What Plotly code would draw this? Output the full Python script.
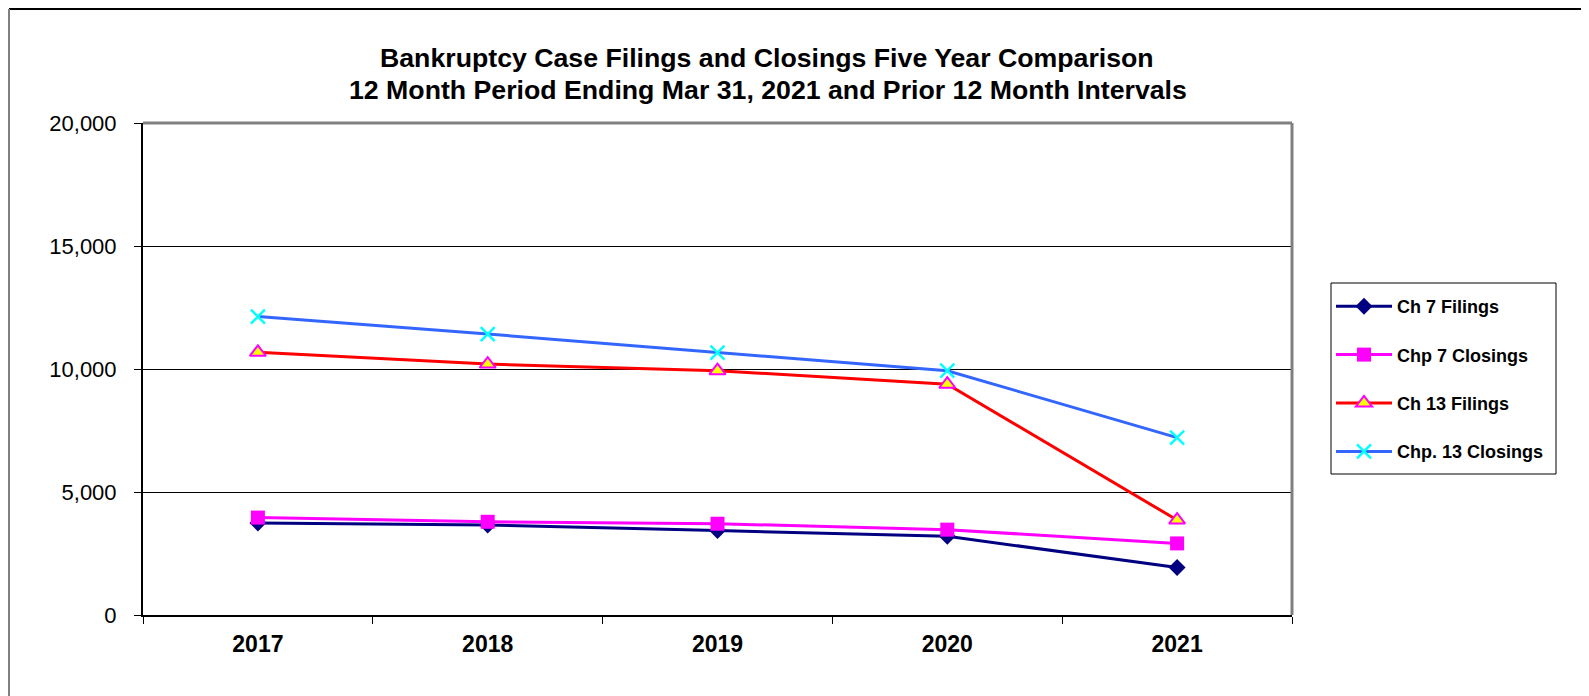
import plotly.graph_objects as go

years = ["2017", "2018", "2019", "2020", "2021"]
ch7_filings = [3740, 3660, 3430, 3200, 1930]
chp7_closings = [3960, 3790, 3710, 3470, 2910]
ch13_filings = [10680, 10200, 9930, 9380, 3860]
chp13_closings = [12130, 11420, 10670, 9930, 7210]
y_ticks = [0, 5000, 10000, 15000, 20000]
y_tick_labels = ["0", "5,000", "10,000", "15,000", "20,000"]
title_lines = ["Bankruptcy Case Filings and Closings Five Year Comparison",
               "12 Month Period Ending Mar 31, 2021 and Prior 12 Month Intervals"]

# page is offset by the 8px body margin
OFF = 8
W, H = 1589 - OFF, 696 - OFF
L, R, T, B = 143 - OFF, 1292 - OFF, 123 - OFF, 615 - OFF

def px(x):
    return (x - OFF - L) / (R - L)

def py(y):
    return (B - (y - OFF)) / (B - T)

fig = go.Figure()
fig.add_trace(go.Scatter(
    x=years, y=ch7_filings, name="Ch 7 Filings", mode="lines+markers", legendgroup="a",
    line=dict(color="#000080", width=3),
    marker=dict(symbol="diamond", size=13, color="#000080")))
fig.add_trace(go.Scatter(
    x=years, y=chp7_closings, name="Chp 7 Closings", mode="lines+markers", legendgroup="b",
    line=dict(color="#FF00FF", width=3),
    marker=dict(symbol="square", size=14, color="#FF00FF")))
fig.add_trace(go.Scatter(
    x=years, y=ch13_filings, name="Ch 13 Filings", mode="lines+markers", legendgroup="c",
    line=dict(color="#FF0000", width=3),
    marker=dict(symbol="triangle-up", size=14, color="#FFFF00", line=dict(color="#FF00FF", width=2))))
fig.add_trace(go.Scatter(
    x=years, y=chp13_closings, name="Chp. 13 Closings", mode="lines+markers", legendgroup="d",
    line=dict(color="#3366FF", width=3),
    marker=dict(symbol="x-thin", size=14, color="#00FFFF", line=dict(color="#00FFFF", width=2.5))))

fig.update_layout(
    width=W, height=H,
    margin=dict(l=L, r=W - R, t=T, b=H - B, pad=0),
    paper_bgcolor="white", plot_bgcolor="white",
    font=dict(family="Arial, Liberation Sans, sans-serif", color="black"),
    showlegend=True,
    legend=dict(
        x=px(1331), y=py(288), xanchor="left", yanchor="top",
        borderwidth=0, bgcolor="rgba(0,0,0,0)",
        font=dict(size=18, weight="bold"), tracegroupgap=22,
        itemwidth=56),
    xaxis=dict(
        type="category", range=[-0.5, 4.5], showgrid=False, zeroline=False,
        showline=True, linecolor="black", linewidth=2,
        ticks="outside", tickson="boundaries", ticklen=7, tickcolor="black", tickwidth=1,
        tickfont=dict(size=23, weight="bold"), ticklabelstandoff=7, fixedrange=True),
    yaxis=dict(
        range=[0, 20000], tickvals=y_ticks, ticktext=y_tick_labels,
        showgrid=True, gridcolor="black", gridwidth=1, zeroline=False,
        showline=True, linecolor="black", linewidth=2,
        ticks="outside", ticklen=7, tickcolor="black", tickwidth=1,
        tickfont=dict(size=22), ticklabelstandoff=13, fixedrange=True),
    annotations=[
        dict(text=title_lines[0], xref="paper", yref="paper", x=px(767), y=py(58),
             xanchor="center", yanchor="middle", showarrow=False,
             font=dict(size=26.7, weight="bold", color="black")),
        dict(text=title_lines[1], xref="paper", yref="paper", x=px(768), y=py(90),
             xanchor="center", yanchor="middle", showarrow=False,
             font=dict(size=26.7, weight="bold", color="black")),
    ],
    shapes=[
        dict(type="line", xref="paper", yref="paper", x0=0, x1=1, y0=1, y1=1,
             line=dict(color="#808080", width=3)),
        dict(type="line", xref="paper", yref="paper", x0=1, x1=1, y0=0, y1=1,
             line=dict(color="#808080", width=3)),
        dict(type="line", xref="paper", yref="paper", x0=px(9), x1=px(1600), y0=py(9), y1=py(9),
             line=dict(color="black", width=2)),
        dict(type="line", xref="paper", yref="paper", x0=px(9), x1=px(9), y0=py(9), y1=py(700),
             line=dict(color="#808080", width=2)),
        dict(type="rect", xref="paper", yref="paper", x0=px(1331), x1=px(1556), y0=py(283), y1=py(474),
             line=dict(color="black", width=1), fillcolor="rgba(0,0,0,0)"),
    ],
)

fig.write_html("out.html")
